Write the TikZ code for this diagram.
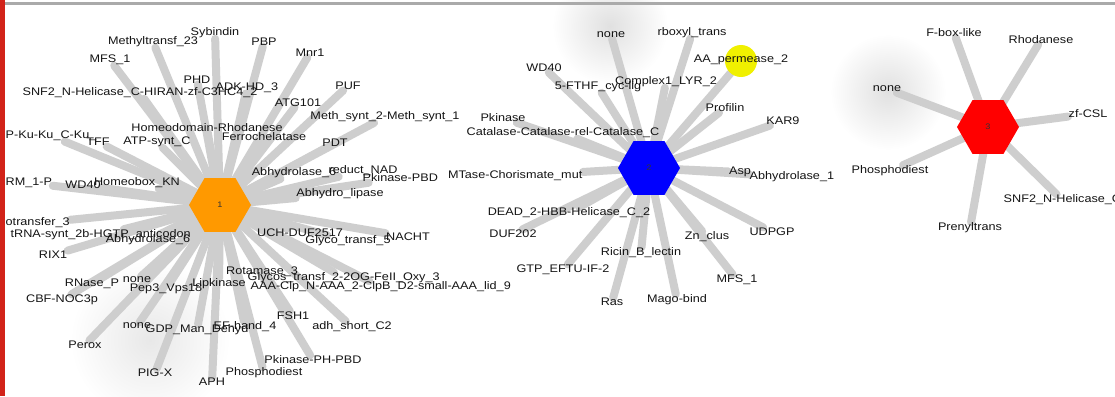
\documentclass[tikz,border=0pt]{standalone}
\usepackage{fontspec}
\setmainfont{Liberation Sans}[FakeStretch=1.15]
\usetikzlibrary{shapes.geometric}
\pgfdeclarelayer{bg}
\pgfsetlayers{bg,main}
\definecolor{hubor}{RGB}{255,153,0}
\definecolor{hubbl}{RGB}{0,0,255}
\definecolor{hubrd}{RGB}{255,0,0}
\definecolor{hubye}{RGB}{240,240,0}
\definecolor{edgec}{RGB}{206,206,206}
\definecolor{barred}{RGB}{210,35,25}
\definecolor{rulec}{RGB}{170,170,170}
\definecolor{labc}{RGB}{20,20,20}
\tikzset{
  lab/.style={font=\fontsize{11}{12}\selectfont, text=labc, inner sep=0.5pt},
  hub/.style={regular polygon, regular polygon sides=6, minimum size=62pt, inner sep=0pt, font=\fontsize{8}{9}\selectfont, text=black!80},
  edge/.style={draw=edgec, line width=8pt, line cap=round},
  blob/.style={inner color=gray!24, outer color=white},
}
\begin{document}
\begin{tikzpicture}[x=1pt,y=-1pt]
\useasboundingbox (0,0) rectangle (1115,396);

% hubs
\node[hub, fill=hubor] (h1) at (220,205) {1};
\node[hub, fill=hubbl] (h2) at (649,168) {2};
\node[hub, fill=hubrd] (h3) at (988,127) {3};
\node[circle, fill=hubye, minimum size=32pt, inner sep=0pt] (yc) at (741,61) {};

% left cluster labels
\node[lab] (a1) at (215,33) {Sybindin};
\node[lab] (a2) at (153,42) {Methyltransf\_23};
\node[lab] (a3) at (264,42) {PBP};
\node[lab] (a4) at (110,60) {MFS\_1};
\node[lab] (a5) at (310,53) {Mnr1};
\node[lab] (a6) at (197,80) {PHD};
\node[lab] (a7) at (247,88) {ADK-HD\_3};
\node[lab] (a8) at (140,93) {SNF2\_N-Helicase\_C-HIRAN-zf-C3HC4\_2};
\node[lab] (a9) at (348,86) {PUF};
\node[lab] (a10) at (298,103) {ATG101};
\node[lab] (a11) at (385,117) {Meth\_synt\_2-Meth\_synt\_1};
\node[lab, anchor=west] (a12) at (5,136) {P-Ku-Ku\_C-Ku\_};
\node[lab] (a13) at (98,142) {TFF};
\node[lab] (a14) at (157,142) {ATP-synt\_C};
\node[lab] (a15) at (207,128) {Homeodomain-Rhodanese};
\node[lab] (a16) at (264,137) {Ferrochelatase};
\node[lab] (a17) at (335,143) {PDT};
\node[lab, anchor=west] (a18) at (5,183) {RM\_1-P};
\node[lab] (a19) at (83,185) {WD40};
\node[lab] (a20) at (137,183) {Homeobox\_KN};
\node[lab] (a21) at (294,173) {Abhydrolase\_6};
\node[lab] (a22) at (363,171) {reduct\_NAD};
\node[lab, anchor=west] (a23) at (362,178) {Pkinase-PBD};
\node[lab] (a24) at (340,194) {Abhydro\_lipase};
\node[lab] (a25) at (300,233) {UCH-DUF2517};
\node[lab] (a26) at (348,241) {Glyco\_transf\_5};
\node[lab] (a27) at (408,237) {NACHT};
\node[lab, anchor=west] (a28) at (5,223) {otransfer\_3};
\node[lab, anchor=west] (a29) at (10,235) {tRNA-synt\_2b-HGTP\_anticodon};
\node[lab] (a30) at (148,240) {Abhydrolase\_6};
\node[lab] (a31) at (53,255) {RIX1};
\node[lab] (a32) at (92,284) {RNase\_P};
\node[lab] (a33) at (137,280) {none};
\node[lab] (a34) at (166,289) {Pep3\_Vps18};
\node[lab] (a35) at (219,284) {Lipkinase};
\node[lab] (a36) at (262,272) {Rotamase\_3};
\node[lab, anchor=west] (a37) at (247,278) {Glycos\_transf\_2-2OG-FeII\_Oxy\_3};
\node[lab, anchor=west] (a38) at (250,287) {AAA-Clp\_N-AAA\_2-ClpB\_D2-small-AAA\_lid\_9};
\node[lab] (a39) at (62,300) {CBF-NOC3p};
\node[lab] (a40) at (293,316) {FSH1};
\node[lab] (a41) at (137,326) {none};
\node[lab] (a42) at (197,330) {GDP\_Man\_Dehyd};
\node[lab] (a43) at (245,327) {EF-hand\_4};
\node[lab] (a44) at (352,327) {adh\_short\_C2};
\node[lab] (a45) at (85,345) {Perox};
\node[lab] (a46) at (313,360) {Pkinase-PH-PBD};
\node[lab] (a47) at (264,373) {Phosphodiest};
\node[lab] (a48) at (155,373) {PIG-X};
\node[lab] (a49) at (212,382) {APH};

% middle cluster labels
\node[lab] (b1) at (611,35) {none};
\node[lab] (b2) at (692,33) {rboxyl\_trans};
\node[lab] (b3) at (741,60) {AA\_permease\_2};
\node[lab] (b4) at (544,68) {WD40};
\node[lab] (b5) at (598,87) {5-FTHF\_cyc-lig};
\node[lab] (b6) at (666,82) {Complex1\_LYR\_2};
\node[lab] (b7) at (725,108) {Profilin};
\node[lab] (b8) at (783,121) {KAR9};
\node[lab] (b9) at (503,118) {Pkinase};
\node[lab] (b10) at (563,133) {Catalase-Catalase-rel-Catalase\_C};
\node[lab, anchor=east] (b11) at (583,176) {MTase-Chorismate\_mut};
\node[lab] (b12) at (740,172) {Asp};
\node[lab, anchor=west] (b13) at (749,177) {Abhydrolase\_1};
\node[lab] (b14) at (569,213) {DEAD\_2-HBB-Helicase\_C\_2};
\node[lab] (b15) at (513,234) {DUF202};
\node[lab] (b16) at (707,237) {Zn\_clus};
\node[lab] (b17) at (772,232) {UDPGP};
\node[lab] (b18) at (641,253) {Ricin\_B\_lectin};
\node[lab] (b19) at (563,270) {GTP\_EFTU-IF-2};
\node[lab] (b20) at (737,280) {MFS\_1};
\node[lab] (b21) at (612,302) {Ras};
\node[lab] (b22) at (677,300) {Mago-bind};

% right cluster labels
\node[lab] (c1) at (887,89) {none};
\node[lab] (c2) at (954,33) {F-box-like};
\node[lab] (c3) at (1041,40) {Rhodanese};
\node[lab, anchor=west] (c4) at (1068,114) {zf-CSL};
\node[lab] (c5) at (890,171) {Phosphodiest};
\node[lab, anchor=west] (c6) at (1003,200) {SNF2\_N-Helicase\_C};
\node[lab] (c7) at (970,228) {Prenyltrans};

\begin{pgfonlayer}{bg}
  \fill[white] (0,0) rectangle (1115,396);
  \shade[blob] (610,26) circle (58pt);
  \shade[blob] (888,92) circle (58pt);
  \shade[inner color=gray!18, outer color=white] (150,340) circle (80pt);
  \foreach \n in {a1,a2,a3,a4,a5,a6,a7,a8,a9,a10,a11,a12,a13,a14,a15,a16,a17,a18,a19,a20,a21,a22,a23,a24,a25,a26,a27,a28,a29,a30,a31,a32,a33,a34,a35,a36,a37,a38,a39,a40,a41,a42,a43,a44,a45,a46,a47,a48,a49}
    \draw[edge] (h1.center) -- (\n);
  \foreach \n in {b1,b2,yc,b4,b5,b6,b7,b8,b9,b10,b11,b12,b13,b14,b15,b16,b17,b18,b19,b20,b21,b22}
    \draw[edge] (h2.center) -- (\n);
  \foreach \n in {c1,c2,c3,c4,c5,c6,c7}
    \draw[edge] (h3.center) -- (\n);
\end{pgfonlayer}

% frame
\fill[rulec] (5,2.5) rectangle (1115,5.5);
\fill[barred] (0,0) rectangle (5,396);
\end{tikzpicture}
\end{document}
